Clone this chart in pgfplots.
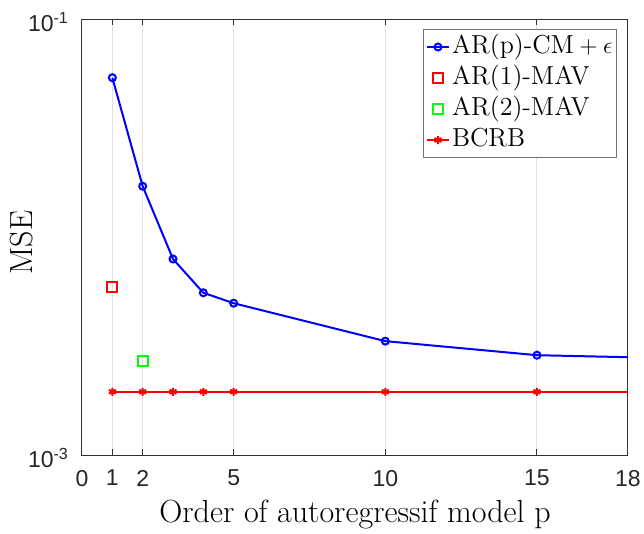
\documentclass[border=0pt]{standalone}
\usepackage{pgfplots}
\pgfplotsset{compat=1.18}
\usepackage{fontspec}
\newfontfamily\tickfont{Liberation Sans}
\begin{document}
\begin{tikzpicture}
\begin{axis}[
  scale only axis, width=273pt, height=218pt,
  ymode=log, xmin=0, xmax=18, ymin=1e-3, ymax=1e-1,
  xtick={0,1,2,5,10,15,18}, xticklabels={0,1,2,5,10,15,18},
  ytick={0.001,0.1}, yticklabels={10\textsuperscript{-3},10\textsuperscript{-1}},
  yminorticks=false, xminorticks=false,
  tick label style={font=\tickfont\fontsize{11.5}{13}\selectfont, text=black!85},
  xticklabel style={yshift=-4pt},
  yticklabel style={xshift=-3pt, yshift=-1.5pt},
  xmajorgrids, major grid style={black!12, line width=0.5pt},
  axis line style={black!80, line width=0.5pt},
  tick style={black!80, line width=0.5pt},
  major tick length=3pt,
  xlabel={Order of autoregressif model p}, ylabel={MSE},
  label style={font=\fontsize{16}{19}\selectfont},
  xlabel style={at={(axis description cs:0.5,0)}, anchor=base, yshift=-33.5pt},
  ylabel style={at={(axis description cs:-0.11,0.487)}, anchor=center, rotate=0},
  legend style={at={(1,1)}, xshift=-5.5pt, yshift=-5pt, anchor=north east,
    draw=black!55, line width=0.5pt, font=\fontsize{13}{15.5}\selectfont,
    inner xsep=1pt, inner ysep=2pt, row sep=2pt,
    nodes={inner xsep=1pt, inner ysep=0pt, text height=10pt, text depth=3.5pt}},
  legend cell align=left,
  legend image code/.code={\draw[#1,mark indices={2}] plot coordinates {(0cm,0cm) (0.195cm,0cm) (0.39cm,0cm)};},
]
\addplot[blue, line width=1pt, mark=o, mark size=1.75pt, mark indices={1,2,3,4,5,6,7}, mark options={line width=1pt}]
  coordinates {(1,0.0538)(2,0.0171)(3,0.00793)(4,0.00555)(5,0.00497)(10,0.00333)(15,0.00287)(18,0.00281)};
\addlegendentry{AR(p)-CM${}+\epsilon$}
\addplot[red, only marks, mark=square, mark size=2.5pt, mark options={line width=1pt}]
  coordinates {(1,0.0059)};
\addlegendentry{AR(1)-MAV}
\addplot[green, only marks, mark=square, mark size=2.5pt, mark options={line width=1pt}]
  coordinates {(2,0.00269)};
\addlegendentry{AR(2)-MAV}
\addplot[red, line width=1pt, mark=asterisk, mark size=2pt, mark indices={1,2,3,4,5,6,7}, mark options={line width=1pt}]
  coordinates {(1,0.00195)(2,0.00195)(3,0.00195)(4,0.00195)(5,0.00195)(10,0.00195)(15,0.00195)(18,0.00195)};
\addlegendentry{BCRB}
\coordinate (bl) at (rel axis cs:0,0);
\coordinate (tr) at (rel axis cs:1,1);
\end{axis}
\pgfresetboundingbox
\useasboundingbox ([shift={(-41pt,-39.2pt)}]bl) rectangle ([shift={(8pt,9.5pt)}]tr);
\end{tikzpicture}
\end{document}
